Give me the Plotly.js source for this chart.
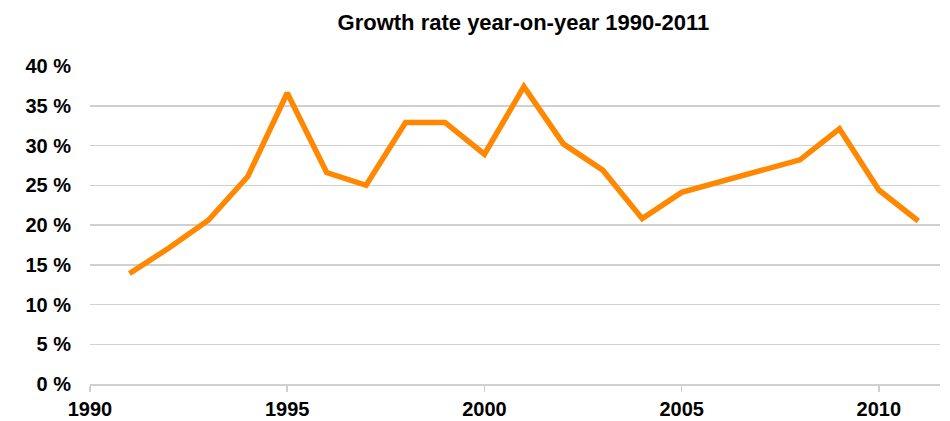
<!DOCTYPE html>
<html>
<head>
<meta charset="utf-8">
<script src="https://cdn.plot.ly/plotly-3.0.1.min.js"></script>
<style>html,body{margin:0;padding:0;background:#fff;}#chart{width:950px;height:421px;}</style>
</head>
<body>
<div id="chart"></div>
<script>
const years = [1991,1992,1993,1994,1995,1996,1997,1998,1999,2000,2001,2002,2003,2004,2005,2006,2007,2008,2009,2010,2011];
const growth = [13.9,17.1,20.6,26.1,36.6,26.6,25.0,32.9,32.9,28.9,37.4,30.2,26.9,20.8,24.1,25.5,26.8,28.2,32.1,24.4,20.5];
const xTicks = [1990,1995,2000,2005,2010];
const yTicks = [0,5,10,15,20,25,30,35,40];
const titleText = 'Growth rate year-on-year 1990-2011';

const fam = 'Liberation Sans, Arial, sans-serif';

Plotly.newPlot('chart', [{
  x: years, y: growth, type: 'scatter', mode: 'lines',
  line: {color: '#FF8800', width: 5.5, shape: 'linear'},
  hoverinfo: 'skip'
}], {
  width: 950, height: 421,
  margin: {l: 90, r: 10, t: 66, b: 37},
  paper_bgcolor: '#fff', plot_bgcolor: '#fff',
  showlegend: false,
  title: {text: titleText, x: 0.551, xanchor: 'center', y: 0.947, yanchor: 'middle',
          font: {family: fam, size: 22, color: '#000', weight: 700}},
  xaxis: {
    range: [1990, 2011.55], tickvals: xTicks, ticktext: xTicks.map(String),
    showgrid: false, zeroline: false, showline: true, linecolor: '#d0d0d0', linewidth: 2,
    ticks: 'outside', ticklen: 6, tickwidth: 1.5, tickcolor: '#d0d0d0',
    ticklabelstandoff: 0,
    tickfont: {family: fam, size: 20, color: '#000', weight: 700}, fixedrange: true
  },
  yaxis: {
    range: [0, 40], tickvals: yTicks, ticktext: yTicks.map(v => v + ' %'),
    showgrid: true, gridcolor: '#d0d0d0', gridwidth: 1.5, zeroline: false,
    showline: false, ticks: '', ticklabelstandoff: 18,
    tickfont: {family: fam, size: 20, color: '#000', weight: 700}, fixedrange: true
  }
}, {displayModeBar: false, staticPlot: true});
</script>
</body>
</html>
